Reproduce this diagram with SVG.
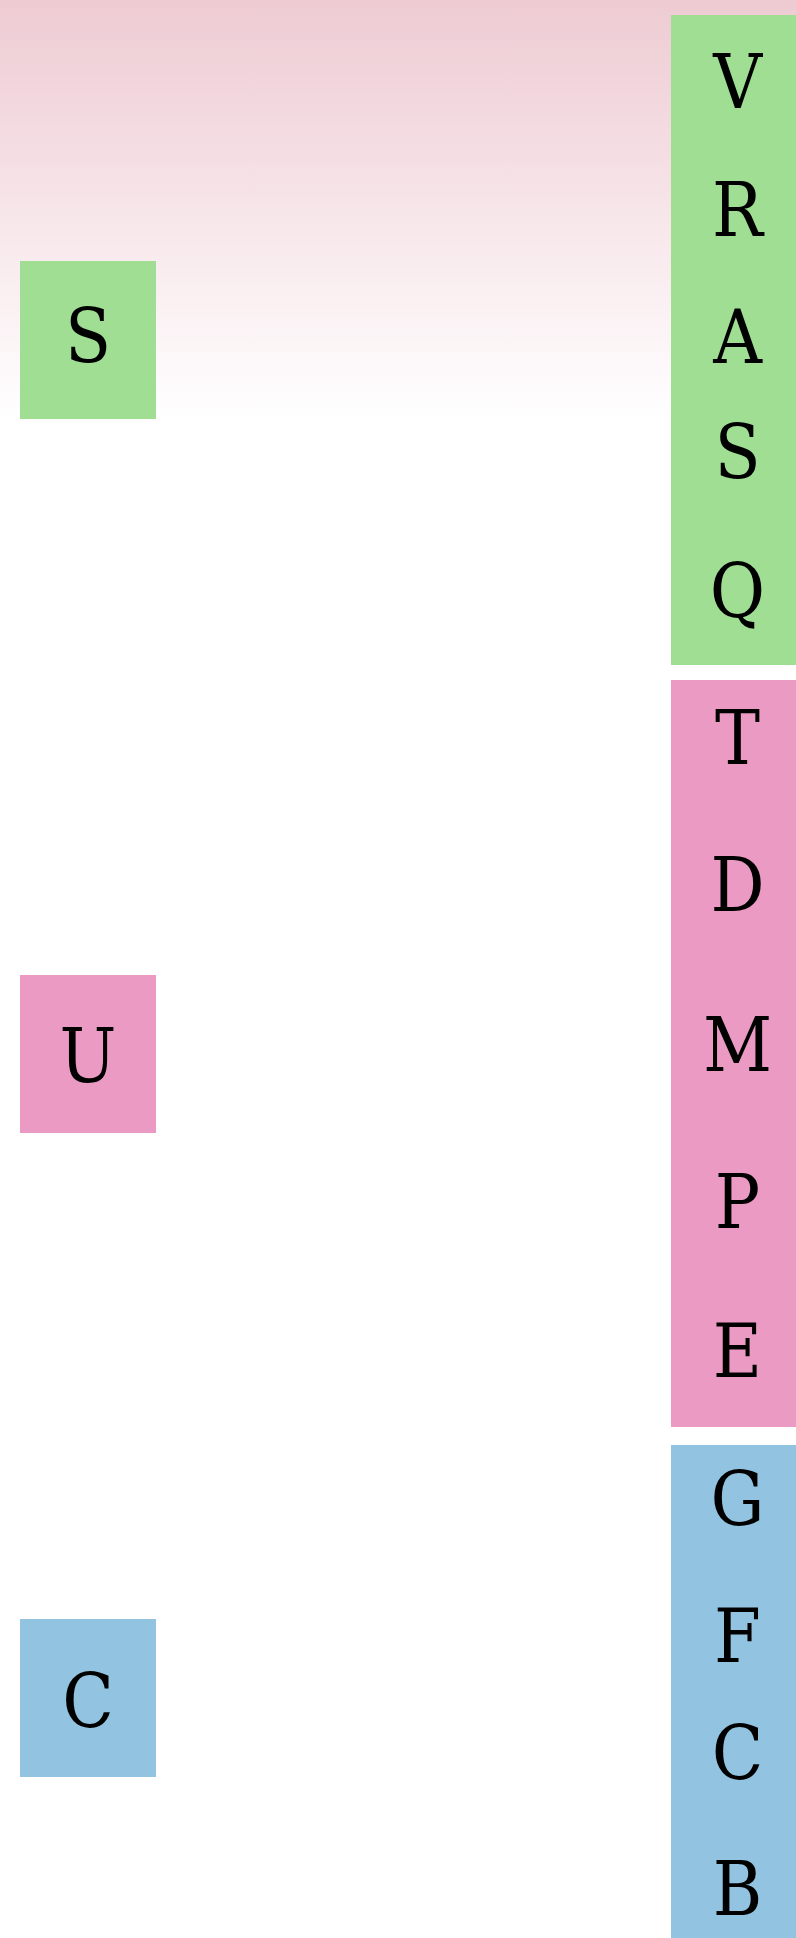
<svg xmlns="http://www.w3.org/2000/svg" width="796" height="1938" viewBox="0 0 796 1938">
<defs>
<linearGradient id="bg" x1="0" y1="0" x2="0" y2="1">
<stop offset="0" stop-color="#eecbd3"/>
<stop offset="1" stop-color="#ffffff"/>
</linearGradient>
<style>
.t{font-family:"DejaVu Serif Condensed","DejaVu Serif",serif;font-stretch:condensed;font-size:75px;fill:#000;text-anchor:middle}
.g{fill:#9fde93}.p{fill:#ea9ac3}.b{fill:#92c3e0}
</style>
</defs>
<rect x="0" y="0" width="796" height="1938" fill="#ffffff"/>
<rect x="0" y="0" width="796" height="420" fill="url(#bg)"/>
<g id="connectors"></g>
<g id="node-S"><rect class="g" x="20" y="261" width="136" height="158"/><text class="t" x="88" y="362">S</text></g>
<g id="node-U"><rect class="p" x="20" y="975" width="136" height="158"/><text class="t" x="88" y="1082">U</text></g>
<g id="node-C"><rect class="b" x="20" y="1619" width="136" height="158"/><text class="t" x="88" y="1727">C</text></g>
<g id="col-green"><rect class="g" x="671" y="15" width="133" height="650"/>
<text class="t" x="737.5" y="108">V</text>
<text class="t" x="737.5" y="236">R</text>
<text class="t" x="737.5" y="363">A</text>
<text class="t" x="737.5" y="478">S</text>
<text class="t" x="737.5" y="617">Q</text>
</g>
<g id="col-pink"><rect class="p" x="671" y="680" width="133" height="747"/>
<text class="t" x="737.5" y="764">T</text>
<text class="t" x="737.5" y="911">D</text>
<text class="t" x="737.5" y="1071">M</text>
<text class="t" x="737.5" y="1228">P</text>
<text class="t" x="737.5" y="1377">E</text>
</g>
<g id="col-blue"><rect class="b" x="671" y="1445" width="133" height="500"/>
<text class="t" x="737.5" y="1525">G</text>
<text class="t" x="737.5" y="1662">F</text>
<text class="t" x="737.5" y="1779">C</text>
<text class="t" x="737.5" y="1915">B</text>
</g>
</svg>
